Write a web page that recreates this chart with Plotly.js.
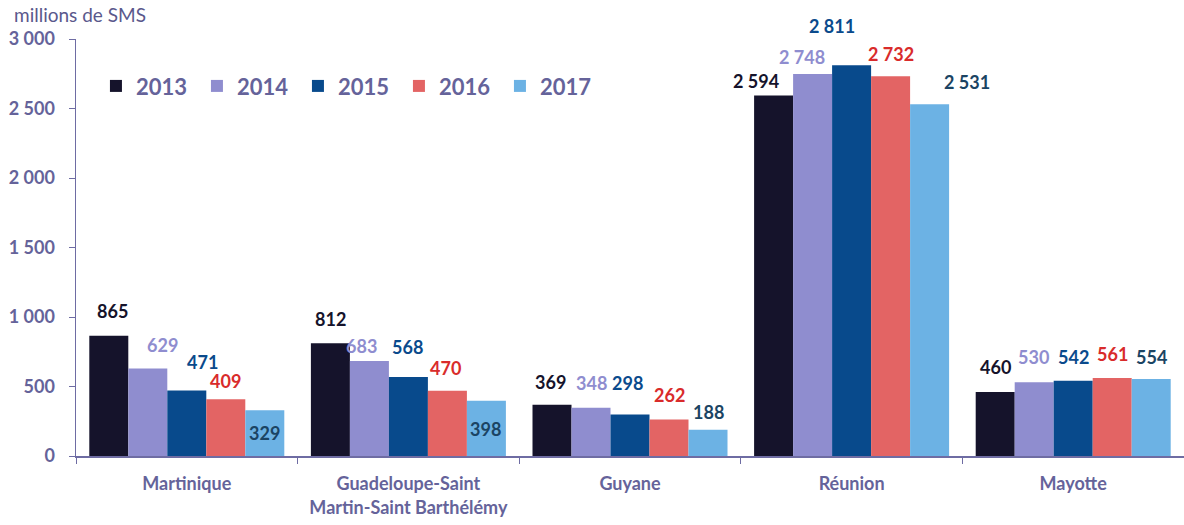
<!DOCTYPE html>
<html>
<head>
<meta charset="utf-8">
<script src="https://cdn.plot.ly/plotly-3.0.1.min.js"></script>
<style>html,body{margin:0;padding:0;background:#fff;}#chart{width:1184px;height:525px;}</style>
</head>
<body>
<div id="chart"></div>
<script>
// ---- data ----
const categories = ["Martinique", "Guadeloupe-Saint<br>Martin-Saint Barthélémy", "Guyane", "Réunion", "Mayotte"];
const years = ["2013", "2014", "2015", "2016", "2017"];
const v2013 = [865, 812, 369, 2594, 460];
const v2014 = [629, 683, 348, 2748, 530];
const v2015 = [471, 568, 298, 2811, 542];
const v2016 = [409, 470, 262, 2732, 561];
const v2017 = [329, 398, 188, 2531, 554];
const yTickVals = [0, 500, 1000, 1500, 2000, 2500, 3000];
const yTickText = ["0", "500", "1 000", "1 500", "2 000", "2 500", "3 000"];

// ---- styles ----
const barColors = ["#15132b", "#8f8dcf", "#084a8c", "#e36464", "#6cb2e4"];
const labelColors = ["#15132b", "#8f8dcf", "#0a4a8c", "#d92b2b", "#1b4463"];
const axisColor = "#6e6ca3";
const textColor = "#65639a";
const FONT = "Lato, 'Open Sans', sans-serif";
// label pixel tweaks per series [dx, dy] (dy: px above bar top, negative = inside)
const labelShift = [
  [[4,25],[0,24],[-1,23],[-18,14],[0,25]],
  [[15,24],[-8,15],[1,25],[-11,17],[-1,25]],
  [[16,29],[-1,30],[-3,32],[-20,39],[0,24]],
  [[0,18],[-2,23],[0,25],[0,22],[0,24]],
  [[0,-23],[-1,-28],[0,18],[37,22],[0,22]]
];

const series = [v2013, v2014, v2015, v2016, v2017];
const fmt = v => String(v).replace(/\B(?=(\d{3})+(?!\d))/g, " ");

const W = 1184, H = 525;
const margin = {l: 76, r: 0, t: 39, b: 69};
const plotW = W - margin.l - margin.r;
const bargap = 0.12;
const catW = plotW / categories.length;
const barW = catW * (1 - bargap) / series.length;

const traces = series.map((vals, i) => ({
  type: "bar",
  name: years[i],
  x: categories,
  y: vals,
  marker: {color: barColors[i]},
  hoverinfo: "skip"
}));

const annotations = [];
series.forEach((vals, i) => {
  vals.forEach((v, j) => {
    const [dx, dy] = labelShift[i][j];
    annotations.push({
      xref: "x", yref: "y", x: categories[j], y: v,
      xshift: (i - 2) * barW + dx, yshift: dy,
      text: fmt(v), showarrow: false, xanchor: "center", yanchor: "middle",
      font: {family: FONT, size: 18, color: labelColors[i], weight: "bold"}
    });
  });
});
annotations.push({
  xref: "paper", yref: "paper", x: -0.058, y: 1.058, xanchor: "left", yanchor: "middle",
  text: "millions de SMS", showarrow: false,
  font: {family: FONT, size: 19, color: "#5a588c"}
});

const layout = {
  width: W, height: H, margin: margin,
  paper_bgcolor: "#fff", plot_bgcolor: "#fff",
  barmode: "group", bargap: bargap, bargroupgap: 0,
  showlegend: true,
  legend: {
    orientation: "h", x: 0.018, y: 0.887, xanchor: "left", yanchor: "middle",
    font: {family: FONT, size: 22, color: textColor, weight: "bold"},
    entrywidth: 56, itemclick: false, bgcolor: "rgba(0,0,0,0)"
  },
  xaxis: {
    type: "category", showgrid: false, showline: true, linecolor: axisColor, linewidth: 1.5,
    ticks: "outside", tickson: "boundaries", ticklen: 6, tickcolor: axisColor,
    tickfont: {family: FONT, size: 18, color: textColor, weight: "bold"},
    ticklabelstandoff: 11, fixedrange: true
  },
  yaxis: {
    range: [0, 3000], tickvals: yTickVals, ticktext: yTickText,
    showgrid: false, zeroline: false, showline: true, linecolor: axisColor, linewidth: 1.5,
    ticks: "outside", ticklen: 6, tickcolor: axisColor,
    tickfont: {family: FONT, size: 18, color: textColor, weight: "bold"},
    ticklabelstandoff: 10, fixedrange: true
  },
  annotations: annotations
};

Plotly.newPlot("chart", traces, layout, {displayModeBar: false, staticPlot: true});
</script>
</body>
</html>
